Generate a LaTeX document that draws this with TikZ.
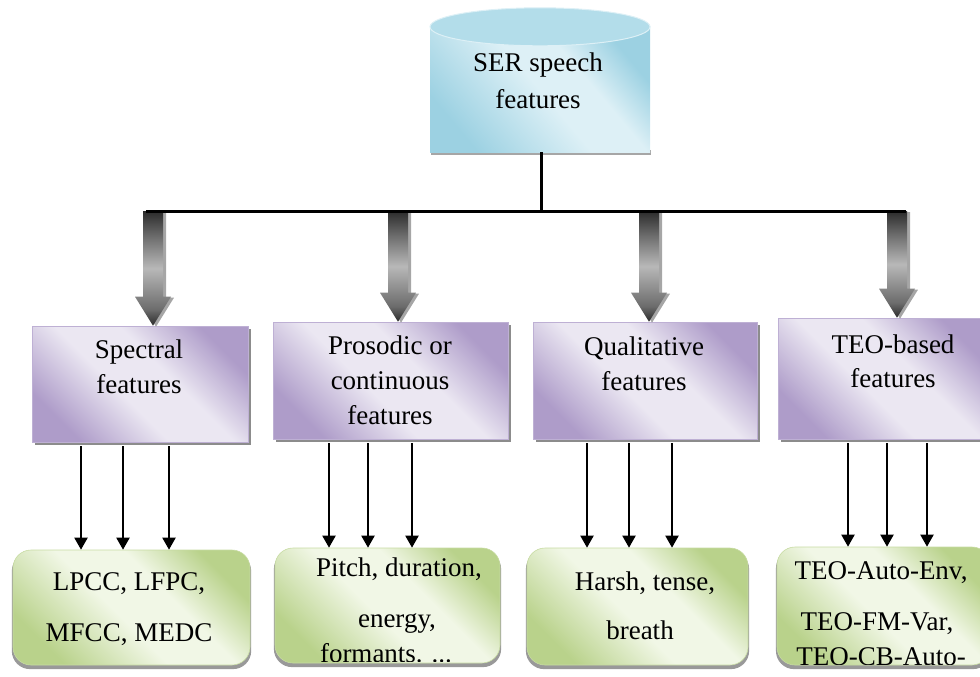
\documentclass[tikz,border=0pt]{standalone}
\usepackage{fontspec}
\setmainfont{Liberation Serif}
\usetikzlibrary{arrows.meta,shadows}
\definecolor{pdk}{HTML}{AE9CC9}
\definecolor{plt}{HTML}{EBE7F2}
\definecolor{gdk}{HTML}{B9D28B}
\definecolor{glt}{HTML}{F1F7E6}
\definecolor{cdk}{HTML}{9CD1E2}
\definecolor{clt}{HTML}{DDF0F6}
\definecolor{ctp}{HTML}{B3DDEA}
\definecolor{adk}{HTML}{2B2B2B}
\definecolor{amd}{HTML}{6C6C6C}
\definecolor{alt}{HTML}{B8B8B8}
\pgfdeclarehorizontalshading{purpsh}{100bp}{color(0bp)=(pdk); color(25bp)=(pdk); color(44bp)=(plt); color(58bp)=(plt); color(75bp)=(pdk); color(100bp)=(pdk)}
\pgfdeclarehorizontalshading{greensh}{100bp}{color(0bp)=(gdk); color(25bp)=(gdk); color(46bp)=(glt); color(60bp)=(glt); color(75bp)=(gdk); color(100bp)=(gdk)}
\pgfdeclarehorizontalshading{cylsh}{100bp}{color(0bp)=(cdk); color(25bp)=(cdk); color(50bp)=(clt); color(62bp)=(clt); color(75bp)=(cdk); color(100bp)=(cdk)}
\pgfdeclareverticalshading{arrsh}{100bp}{color(0bp)=(adk); color(25bp)=(adk); color(32bp)=(amd); color(50bp)=(alt); color(64bp)=(amd); color(75bp)=(adk); color(100bp)=(adk)}
\begin{document}
\begin{tikzpicture}[x=1pt,y=-1pt,
  txt/.style={font=\fontsize{27}{32}\selectfont, inner sep=0pt, anchor=base, text=black},
  purp/.style={rectangle, inner sep=0pt, shading=purpsh, shading angle=45, draw=pdk!80, line width=0.6pt,
    drop shadow={shadow xshift=2.5pt, shadow yshift=-3pt, fill=black!45, opacity=1}},
  grn/.style={rectangle, rounded corners=18pt, inner sep=0pt, shading=greensh, shading angle=45, draw=gdk!80, line width=0.6pt,
    drop shadow={shadow xshift=0pt, shadow yshift=-3.5pt, shadow scale=1.01, fill=black!40, opacity=1}},
  cylbody/.style={rectangle, inner sep=0pt, shading=cylsh, shading angle=40,
    minimum width=220pt, minimum height=125pt},
  cyltop/.style={fill=ctp, draw=clt, line width=1pt},
  bigarrow/.style={shading=arrsh},
  arrshadow/.style={fill=black!35},
  thinarr/.style={line width=2pt, -{Triangle[width=13pt,length=12pt]}},
  bus/.style={line width=3pt}
]
\useasboundingbox (0,0) rectangle (980,677);

% cylinder
\fill[black!35] (431,150) rectangle (651,155);
\node[cylbody] (cyl) at (540,89.5) {};
\path[cyltop] (cyl.north) ellipse [x radius=110pt, y radius=19pt];
\node[txt] (cyl1) at (538,72) {SER speech};
\node[txt] (cyl2) at (538,108) {features};

% category boxes
\node[purp, minimum width=216pt, minimum height=116pt] (p1) at (140,384) {};
\node[purp, minimum width=235pt, minimum height=117pt] (p2) at (390.5,380.5) {};
\node[purp, minimum width=224pt, minimum height=117pt] (p3) at (645,380.5) {};
\node[purp, minimum width=212pt, minimum height=121pt] (p4) at (884,378.5) {};

\node[txt] (p1a) at (139,358) {Spectral};
\node[txt] (p1b) at (139,393) {features};
\node[txt] (p2a) at (390,354) {Prosodic or};
\node[txt] (p2b) at (390,389) {continuous};
\node[txt] (p2c) at (390,424) {features};
\node[txt] (p3a) at (644,355) {Qualitative};
\node[txt] (p3b) at (644,390) {features};
\node[txt] (p4a) at (893,353) {TEO-based};
\node[txt] (p4b) at (893,387) {features};

% bus
\coordinate (busL) at (146,211);
\coordinate (busR) at (906,211);

% big gradient arrows
\foreach \b/\dx in {p1/13,p2/7.5,p3/4,p4/13}{
  \coordinate (tip) at ([xshift=\dx pt]\b.north);
  \coordinate (top) at (tip |- busL);
  \path[arrshadow, transform canvas={xshift=3pt,yshift=-1pt}] (tip) -- ++(-18,-29) -- ++(8,0) -- ([xshift=-10pt]top) -- ([xshift=10pt]top) -- ([xshift=10pt,yshift=29pt]tip) -- ++(8,0) -- cycle;
  \path[bigarrow] (tip) -- ++(-18,-29) -- ++(8,0) -- ([xshift=-10pt]top) -- ([xshift=10pt]top) -- ([xshift=10pt,yshift=29pt]tip) -- ++(8,0) -- cycle;
}

\draw[bus] (busL) -- (busR);
\draw[bus] ([xshift=1pt]cyl.south) -- ([xshift=1pt]cyl.south |- busL);

% feature boxes
\node[grn, minimum width=237pt, minimum height=115pt] (g1) at (131.5,607.5) {};
\node[grn, minimum width=225pt, minimum height=115pt] (g2) at (387.5,605.5) {};
\node[grn, minimum width=221pt, minimum height=117pt] (g3) at (637.5,606.5) {};
\node[grn, minimum width=213pt, minimum height=118pt] (g4) at (883.5,606) {};

\node[txt] (g1a) at (129,590) {LPCC, LFPC,};
\node[txt] (g1b) at (129,641) {MFCC, MEDC};
\begin{scope}
  \clip ([yshift=-2pt]g2.north west) rectangle ([yshift=2pt]g2.south east);
  \node[txt] (g2a) at (399,576) {Pitch, duration,};
  \node[txt] (g2b) at (397,627) {energy,};
  \node[txt] (g2c) at (386,662) {formants. ...};
\end{scope}
\node[txt] (g3a) at (645,590) {Harsh, tense,};
\node[txt] (g3b) at (640,639) {breath};
\begin{scope}
  \clip ([yshift=-2pt]g4.north west) rectangle ([yshift=1pt]g4.south east);
  \node[txt] (g4a) at (881,579) {TEO-Auto-Env,};
  \node[txt] (g4b) at (877,630) {TEO-FM-Var,};
  \node[txt] (g4c) at (881,665) {TEO-CB-Auto-};
\end{scope}

% thin arrows
\foreach \b/\g/\dx in {p1/g1/-59,p1/g1/-17,p1/g1/29,p2/g2/-61.5,p2/g2/-22.5,p2/g2/21.5,p3/g3/-58,p3/g3/-16,p3/g3/27,p4/g4/-36,p4/g4/3,p4/g4/43}{
  \coordinate (s) at ([xshift=\dx pt,yshift=-4pt]\b.south);
  \draw[thinarr] (s) -- (s |- \g.north);
}
\end{tikzpicture}
\end{document}
